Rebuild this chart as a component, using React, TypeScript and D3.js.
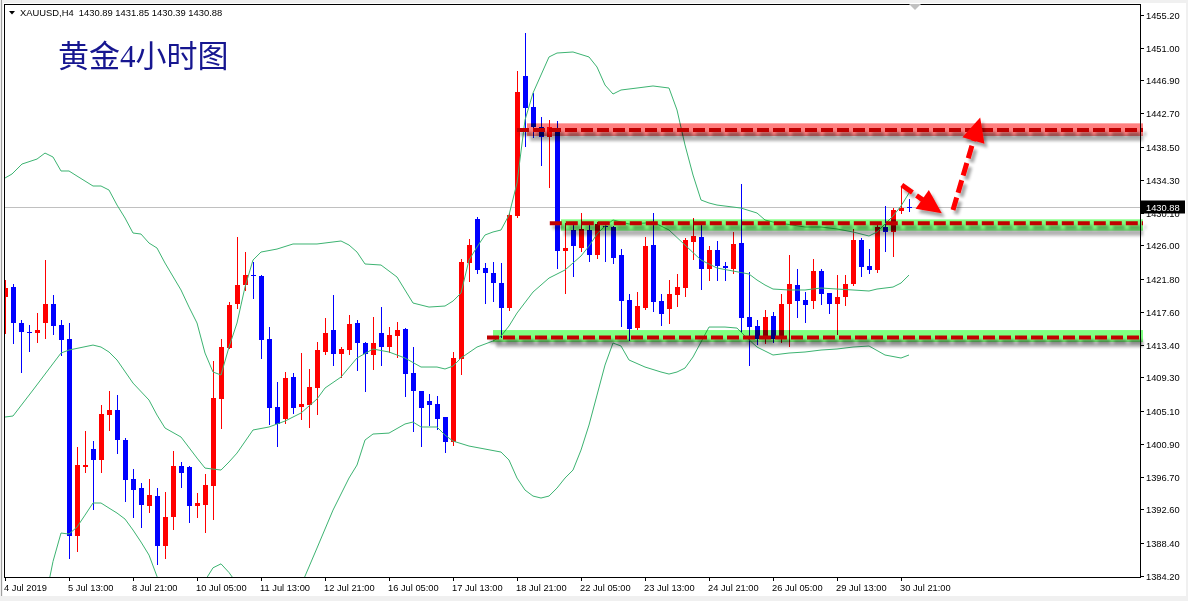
import React from "react";
import * as d3 from "d3";

const headerSymbol = "XAUUSD,H4";
const headerQuote = ["1430.89", "1431.85", "1430.39", "1430.88"];
const titleText = "黄金4小时图";
const lastPrice = 1430.88;

const priceTicks = [1455.2, 1451.0, 1446.9, 1442.7, 1438.5, 1434.3, 1430.1, 1426.0, 1421.8, 1417.6, 1413.4, 1409.3, 1405.1, 1400.9, 1396.7, 1392.6, 1388.4, 1384.2];

const dateLabels = ["4 Jul 2019", "5 Jul 13:00", "8 Jul 21:00", "10 Jul 05:00", "11 Jul 13:00", "12 Jul 21:00", "16 Jul 05:00", "17 Jul 13:00", "18 Jul 21:00", "22 Jul 05:00", "23 Jul 13:00", "24 Jul 21:00", "26 Jul 05:00", "29 Jul 13:00", "30 Jul 21:00"];

const opens = [1419.51, 1420.74, 1416.18, 1415.10, 1414.95, 1416.22, 1418.60, 1415.89, 1414.12, 1389.26,
  1397.95, 1400.19, 1398.87, 1404.57, 1405.17, 1401.37, 1396.43, 1395.33, 1393.05, 1394.28,
  1387.99, 1391.66, 1398.08, 1397.95, 1393.05, 1393.14, 1395.58, 1406.60, 1413.05, 1418.62,
  1421.03, 1422.29, 1422.13, 1414.12, 1405.55, 1404.03, 1409.34, 1405.51, 1405.80, 1407.99,
  1412.47, 1415.29, 1412.29, 1412.76, 1416.18, 1413.65, 1412.17, 1414.91, 1413.18, 1414.57,
  1415.42, 1409.81, 1407.57, 1406.30, 1405.93, 1404.28, 1401.15, 1411.66, 1423.81, 1429.34,
  1423.14, 1422.51, 1421.24, 1418.14, 1429.72, 1447.44, 1443.48, 1441.02, 1439.68, 1440.82,
  1425.33, 1427.95, 1425.73, 1427.95, 1424.79, 1428.49, 1428.37, 1424.79, 1419.09, 1415.54,
  1418.14, 1426.05, 1418.96, 1417.91, 1419.72, 1420.65, 1426.47, 1427.10, 1423.01, 1425.42,
  1423.39, 1422.98, 1426.34, 1416.98, 1415.80, 1414.11, 1417.06, 1414.11, 1418.58, 1420.99,
  1419.09, 1419.00, 1422.80, 1419.94, 1418.58, 1419.41, 1421.11, 1426.72, 1423.39, 1422.95,
  1428.37, 1427.73, 1430.39, 1430.89];

const highs = [1421.62, 1421.12, 1416.56, 1415.93, 1417.49, 1424.15, 1419.72, 1416.52, 1416.18, 1400.44,
  1402.51, 1401.20, 1405.80, 1407.57, 1407.06, 1401.58, 1397.70, 1395.96, 1396.43, 1395.25,
  1394.82, 1399.98, 1398.62, 1398.08, 1394.62, 1397.07, 1411.37, 1414.15, 1418.84, 1427.06,
  1425.16, 1423.94, 1422.20, 1415.63, 1408.67, 1409.97, 1409.89, 1412.34, 1410.36, 1413.81,
  1416.81, 1419.72, 1413.18, 1417.19, 1416.60, 1413.81, 1416.94, 1418.20, 1415.67, 1416.30,
  1415.50, 1413.14, 1407.61, 1407.19, 1406.94, 1404.30, 1412.51, 1424.28, 1426.81, 1429.59,
  1423.77, 1423.90, 1423.77, 1430.14, 1448.07, 1452.85, 1445.25, 1442.21, 1441.87, 1441.75,
  1428.83, 1428.80, 1430.04, 1428.58, 1428.96, 1428.90, 1428.45, 1425.54, 1419.85, 1420.06,
  1427.02, 1430.14, 1419.88, 1421.62, 1422.38, 1426.90, 1429.50, 1429.00, 1425.92, 1426.56,
  1423.94, 1427.66, 1433.77, 1422.59, 1416.56, 1417.82, 1417.53, 1419.85, 1424.79, 1423.01,
  1420.14, 1424.28, 1422.98, 1419.97, 1422.25, 1422.25, 1428.05, 1426.97, 1425.54, 1428.71,
  1430.99, 1430.70, 1433.52, 1431.85];

const lows = [1414.95, 1413.69, 1410.01, 1412.67, 1413.82, 1414.32, 1414.79, 1412.13, 1386.40, 1387.36,
  1397.35, 1392.60, 1397.35, 1402.64, 1399.76, 1393.66, 1391.66, 1390.40, 1392.30, 1385.64,
  1386.40, 1390.14, 1395.46, 1391.03, 1391.66, 1389.76, 1391.33, 1402.85, 1412.98, 1418.11,
  1420.36, 1419.30, 1411.79, 1403.43, 1400.65, 1403.56, 1404.75, 1404.03, 1403.05, 1404.66,
  1412.22, 1410.86, 1409.38, 1412.25, 1410.23, 1407.61, 1410.36, 1410.86, 1412.47, 1411.91,
  1406.98, 1402.55, 1400.65, 1403.31, 1402.76, 1399.89, 1400.74, 1409.76, 1421.53, 1422.47,
  1418.75, 1419.00, 1414.41, 1417.89, 1429.63, 1438.62, 1439.68, 1436.18, 1433.43, 1423.10,
  1420.01, 1422.13, 1425.35, 1424.06, 1424.40, 1424.09, 1423.73, 1415.84, 1414.06, 1415.39,
  1417.92, 1417.73, 1415.93, 1416.22, 1418.29, 1419.60, 1424.28, 1420.44, 1421.62, 1421.62,
  1421.62, 1422.47, 1415.08, 1410.86, 1413.52, 1413.61, 1413.81, 1413.81, 1413.30, 1416.98,
  1416.34, 1418.04, 1418.58, 1417.41, 1414.79, 1418.46, 1420.95, 1422.19, 1422.55, 1422.63,
  1425.33, 1424.66, 1430.14, 1430.39];

const closes = [1420.57, 1416.22, 1415.08, 1414.98, 1415.29, 1418.60, 1415.80, 1414.03, 1389.26, 1398.16,
  1398.16, 1398.87, 1404.66, 1405.17, 1401.37, 1396.35, 1395.08, 1393.14, 1394.41, 1387.99,
  1391.62, 1398.08, 1397.23, 1393.05, 1393.40, 1395.67, 1406.68, 1413.14, 1418.46, 1420.99,
  1422.29, 1422.09, 1414.06, 1405.46, 1403.43, 1409.22, 1405.46, 1405.93, 1408.08, 1412.76,
  1414.91, 1412.29, 1412.89, 1416.05, 1413.69, 1412.29, 1413.65, 1413.18, 1414.66, 1415.29,
  1409.76, 1407.61, 1405.46, 1405.84, 1404.03, 1401.15, 1411.75, 1423.90, 1426.05, 1422.92,
  1422.47, 1421.28, 1418.14, 1429.85, 1445.45, 1443.43, 1441.02, 1439.68, 1440.95, 1425.33,
  1425.67, 1425.92, 1428.08, 1424.79, 1428.67, 1428.27, 1424.44, 1419.00, 1415.42, 1418.33,
  1425.92, 1418.87, 1417.32, 1419.85, 1420.77, 1426.68, 1427.19, 1423.01, 1425.42, 1423.43,
  1423.10, 1426.18, 1416.77, 1415.71, 1414.11, 1416.98, 1414.11, 1418.58, 1421.11, 1419.00,
  1418.46, 1422.80, 1419.85, 1418.58, 1419.51, 1421.11, 1426.68, 1423.30, 1422.89, 1428.33,
  1427.73, 1430.48, 1430.70, 1430.88];

const upperBand: [number, number][] = [[0, 1434.53], [0.875, 1435.04], [2.125, 1436.30], [4, 1436.93], [5, 1437.69], [6, 1437.19], [7, 1435.42], [8, 1435.42], [9, 1434.78], [10, 1434.15], [11, 1433.52], [12, 1433.52], [13, 1433.01], [14, 1431.11], [15, 1429.47], [16, 1427.57], [17, 1427.44], [18, 1426.30], [19, 1425.67], [20, 1423.77], [22, 1420.36], [23, 1418.20], [24, 1416.18], [25, 1412.38], [26, 1409.98], [27, 1409.60], [28, 1413.14], [29, 1416.18], [30, 1420.73], [31, 1424.15], [32, 1425.16], [34, 1425.54], [36, 1426.18], [39, 1426.18], [42, 1426.56], [43, 1426.05], [44, 1425.16], [45, 1423.65], [47, 1423.52], [49, 1422.00], [51, 1418.71], [53, 1418.20], [55, 1418.33], [56, 1418.96], [57, 1419.97], [58, 1424.15], [59, 1425.80], [60, 1427.32], [61, 1427.70], [62, 1427.95], [63, 1429.85], [64, 1433.90], [65, 1441.87], [66, 1445.29], [67, 1447.57], [68, 1449.85], [69, 1450.35], [71, 1450.48], [73, 1449.85], [74, 1448.58], [75, 1446.30], [76, 1445.16], [77, 1445.67], [79, 1445.92], [81, 1446.18], [83, 1445.92], [84, 1443.14], [85, 1438.71], [86, 1434.91], [87, 1431.75], [88, 1431.37], [89, 1431.11], [92, 1430.73], [94, 1430.10], [95, 1429.22], [96, 1428.96], [100, 1428.33], [102, 1428.33], [104, 1428.08], [106, 1427.70], [108, 1427.19], [109, 1427.70], [110, 1428.71], [111, 1429.72], [112, 1430.99], [113, 1432.63]];

const middleBand: [number, number][] = [[0, 1404.28], [1, 1404.41], [3.5, 1407.70], [7, 1412.38], [8, 1412.76], [11, 1413.39], [12, 1413.14], [13, 1412.51], [14, 1411.50], [16, 1408.58], [18, 1406.43], [19, 1404.53], [20, 1402.89], [22, 1401.75], [24, 1399.09], [25, 1397.82], [27, 1397.57], [28, 1398.59], [29, 1399.72], [31, 1402.64], [33, 1403.02], [35, 1403.77], [37, 1404.79], [39, 1406.56], [40, 1407.95], [42, 1409.34], [44, 1411.75], [46, 1412.89], [48, 1412.51], [50, 1411.75], [52, 1410.61], [54, 1410.61], [55, 1410.36], [56, 1410.73], [57, 1411.75], [59, 1413.14], [61, 1413.90], [62, 1414.53], [63, 1415.80], [64, 1417.44], [66, 1420.10], [68, 1421.87], [70, 1422.89], [72, 1424.66], [73, 1425.92], [74, 1427.44], [75, 1428.45], [76, 1429.22], [78, 1428.71], [80, 1428.83], [81, 1428.96], [83, 1427.95], [85, 1426.05], [87, 1424.15], [89, 1423.14], [91, 1422.76], [93, 1422.38], [94, 1421.62], [95, 1420.99], [96, 1420.48], [98, 1420.36], [100, 1420.36], [102, 1420.61], [104, 1420.48], [106, 1420.36], [108, 1420.23], [109, 1420.48], [111, 1420.73], [112, 1421.24], [113, 1422.25]];

const lowerBand: [number, number][] = [[5.6, 1384.0], [6, 1386.0], [7, 1389.60], [8, 1389.47], [9, 1390.36], [10, 1391.87], [11, 1393.40], [12, 1393.40], [13, 1392.76], [14, 1392.13], [15, 1391.37], [16, 1389.98], [17, 1388.46], [18, 1386.81], [19, 1384.10], [19.2, 1383.6],
  [NaN, NaN],
  [25.2, 1383.9], [26, 1385.2], [27, 1385.7], [28, 1384.6], [28.5, 1383.9],
  [NaN, NaN],
  [37.4, 1383.9], [39, 1387.70], [41, 1392.50], [43, 1396.56], [44, 1398.21], [45, 1401.37], [46, 1402.13], [48, 1402.25], [50, 1403.40], [51, 1403.65], [52, 1403.02], [54, 1403.02], [55, 1402.00], [56, 1401.24], [58, 1400.61], [60, 1400.23], [62, 1399.85], [63, 1398.84], [64, 1396.56], [65, 1395.04], [66, 1394.28], [67, 1394.03], [68, 1394.28], [69, 1395.29], [70, 1396.56], [71, 1397.57], [72, 1400.10], [73, 1403.27], [74, 1407.06], [75, 1410.86], [76, 1413.65], [77, 1413.27], [78, 1411.50], [80, 1410.61], [82, 1409.98], [83, 1409.72], [84, 1409.98], [85, 1410.48], [86, 1411.88], [87, 1413.77], [88, 1415.67], [90, 1415.67], [91.5, 1415.54], [92.5, 1414.53], [94, 1413.14], [96, 1412.13], [98, 1412.38], [100, 1412.51], [102, 1412.76], [104, 1412.89], [106, 1413.14], [108, 1413.27], [110, 1412.13], [112, 1411.75], [113, 1412.13]];

// horizontal levels (dashed) and zones
const levelPrices = [1440.6, 1428.8, 1414.34];
const levelStartIdx = [64, 68.1, 60.25];
const zoneTop = [1441.45, 1429.3, 1415.29];
const zoneBottom = [1439.85, 1427.86, 1413.77];
const zoneStartIdx = [65.25, 69.5, 61];
const zoneKind = ["resistance", "support", "support"];

// arrows drawn on chart (index, price)
const arrowStarts: [number, number][] = [[112.1, 1433.64], [118.5, 1430.48]];
const arrowTips: [number, number][] = [[117.1, 1430.06], [121.9, 1442.19]];

const FONT = "'Liberation Sans', Arial, sans-serif";

export default function App() {
  const W = 1188, H = 601;
  const L = 4, T = 4, R = 1140, B = 577;
  const x = d3.scaleLinear().domain([0, 113]).range([5, 909]);
  const y = d3.scaleLinear().domain([1384.2, 1455.2]).range([575.7, 14.7]);
  const fmt = d3.format(".2f");

  const bandLine = d3
    .line<[number, number]>()
    .defined((d) => !isNaN(d[0]))
    .x((d) => x(d[0]))
    .y((d) => y(d[1]));

  const candles = opens.map((o, i) => {
    const c = closes[i];
    const xc = Math.round(x(i));
    const top = Math.round(y(Math.max(o, c)));
    const bot = Math.round(y(Math.min(o, c)));
    const hy = Math.round(y(highs[i]));
    const ly = Math.round(y(lows[i]));
    const col = c >= o ? "#ff0000" : "#0000ff";
    return (
      <g key={i} fill={col}>
        <rect x={xc} y={hy} width={1} height={Math.max(1, ly - hy + 1)} />
        <rect x={xc - 2} y={top} width={5} height={Math.max(1, bot - top)} />
      </g>
    );
  });

  const arrows = arrowStarts.map((s, k) => {
    const sx = x(s[0]), sy = y(s[1]);
    const tx = x(arrowTips[k][0]), ty = y(arrowTips[k][1]);
    const dx = tx - sx, dy = ty - sy;
    const len = Math.hypot(dx, dy);
    const ux = dx / len, uy = dy / len;
    const bx = tx - ux * 24, by = ty - uy * 24;
    const nx = -uy, ny = ux;
    const hw = 11.5;
    return (
      <g key={k}>
        <line x1={sx} y1={sy} x2={bx + ux * 2} y2={by + uy * 2} stroke="#ff0000" strokeWidth={5} strokeDasharray="13 5" />
        <polygon points={`${tx},${ty} ${bx + nx * hw},${by + ny * hw} ${bx - nx * hw},${by - ny * hw}`} fill="#ff0000" />
      </g>
    );
  });

  const yLast = y(lastPrice);

  return (
    <svg width={W} height={H} style={{ position: "absolute", left: 0, top: 0 }}>
      <defs>
        <clipPath id="plot">
          <rect x={L + 0.5} y={T + 0.5} width={R - L - 0.5} height={B - T - 0.5} />
        </clipPath>
        <filter id="shadow" filterUnits="userSpaceOnUse" x={0} y={0} width={W} height={H}>
          <feDropShadow dx={3} dy={4} stdDeviation={1.6} floodColor="#000" floodOpacity={0.35} />
        </filter>
        <filter id="blur" filterUnits="userSpaceOnUse" x={0} y={0} width={W} height={H}>
          <feGaussianBlur stdDeviation={1.6} />
        </filter>
      </defs>
      <rect x={0} y={0} width={W} height={H} fill="#ffffff" />
      {/* window borders */}
      <rect x={0} y={0} width={W} height={3} fill="#f0f0f0" />
      <rect x={0} y={0} width={3} height={H} fill="#f0f0f0" />
      <rect x={1} y={0} width={1} height={H} fill="#a0a0a0" />
      <rect x={W - 2} y={0} width={2} height={H} fill="#f0f0f0" />
      <rect x={0} y={596} width={W} height={5} fill="#f0f0f0" />

      <g clipPath="url(#plot)">
        <line x1={L} x2={R} y1={Math.round(yLast) + 0.5} y2={Math.round(yLast) + 0.5} stroke="#c0c0c0" strokeWidth={1} />
        <g shapeRendering="crispEdges">{candles}</g>
        <g fill="none" stroke="#3cb371" strokeWidth={1}>
          <path d={bandLine(upperBand) || ""} />
          <path d={bandLine(middleBand) || ""} />
          <path d={bandLine(lowerBand) || ""} />
        </g>
      </g>

      {/* zones */}
      {levelPrices.map((p, k) => {
        const zx = x(zoneStartIdx[k]);
        const zt = y(zoneTop[k]);
        const zb = y(zoneBottom[k]);
        return (
          <g key={"z" + k}>
            <rect x={zx + 3} y={zb - 1} width={1143 - zx - 3} height={6} fill="#000" opacity={0.3} filter="url(#blur)" />
            <rect x={zx} y={zt} width={1143 - zx} height={zb - zt} fill={zoneKind[k] === "resistance" ? "#ff8080" : "#80ff80"} style={{ mixBlendMode: "multiply" }} />
          </g>
        );
      })}
      <g filter="url(#shadow)">
        {levelPrices.map((p, k) => (
          <line key={"l" + k} x1={x(levelStartIdx[k])} x2={1143} y1={y(p)} y2={y(p)} stroke="#c00000" strokeWidth={4} strokeDasharray="12 4" />
        ))}
      </g>

      <g filter="url(#shadow)">{arrows}</g>

      {/* frame */}
      <g stroke="#000" strokeWidth={1} shapeRendering="crispEdges" fill="none">
        <line x1={L + 0.5} x2={R + 0.5} y1={T + 0.5} y2={T + 0.5} />
        <line x1={L + 0.5} x2={L + 0.5} y1={T} y2={B + 0.5} />
        <line x1={R + 0.5} x2={R + 0.5} y1={T} y2={B + 0.5} />
        <line x1={L} x2={R + 0.5} y1={B + 0.5} y2={B + 0.5} />
      </g>

      {/* price axis */}
      <g fontFamily={FONT} fontSize={9.3} fill="#000">
        {priceTicks.map((p) => {
          const py = Math.round(y(p)) + 0.5;
          return (
            <g key={p}>
              <line x1={R + 1} x2={R + 4} y1={py} y2={py} stroke="#000" shapeRendering="crispEdges" />
              <text x={1146} y={py + 3.4}>{fmt(p)}</text>
            </g>
          );
        })}
      </g>
      <rect x={1141} y={Math.round(yLast) - 6.5} width={44} height={13} fill="#000" />
      <text x={1146} y={Math.round(yLast) + 3.8} fontFamily={FONT} fontSize={9.3} fill="#fff">{fmt(lastPrice)}</text>

      {/* time axis */}
      <g fontFamily={FONT} fontSize={9.3} fill="#000">
        {dateLabels.map((lab, k) => {
          const tx = Math.round(x(k * 8));
          return (
            <g key={lab}>
              <line x1={tx + 0.5} x2={tx + 0.5} y1={B} y2={B + 4} stroke="#000" shapeRendering="crispEdges" />
              <text x={tx - 1} y={591}>{lab}</text>
            </g>
          );
        })}
      </g>

      {/* header */}
      <polygon points="9,11 15,11 12,14.5" fill="#000" />
      <text x={20} y={16} fontFamily={FONT} fontSize={9.4} fill="#000" style={{ whiteSpace: "pre" }}>
        {headerSymbol + "  " + headerQuote.join(" ")}
      </text>
      <polygon points="909,4 921,4 915,10" fill="#c0c0c0" />

      <text x={58} y={67} fontFamily="'Liberation Serif', 'Noto Sans CJK SC', serif" fontSize={31} fill="#161690">
        {titleText}
      </text>
    </svg>
  );
}
